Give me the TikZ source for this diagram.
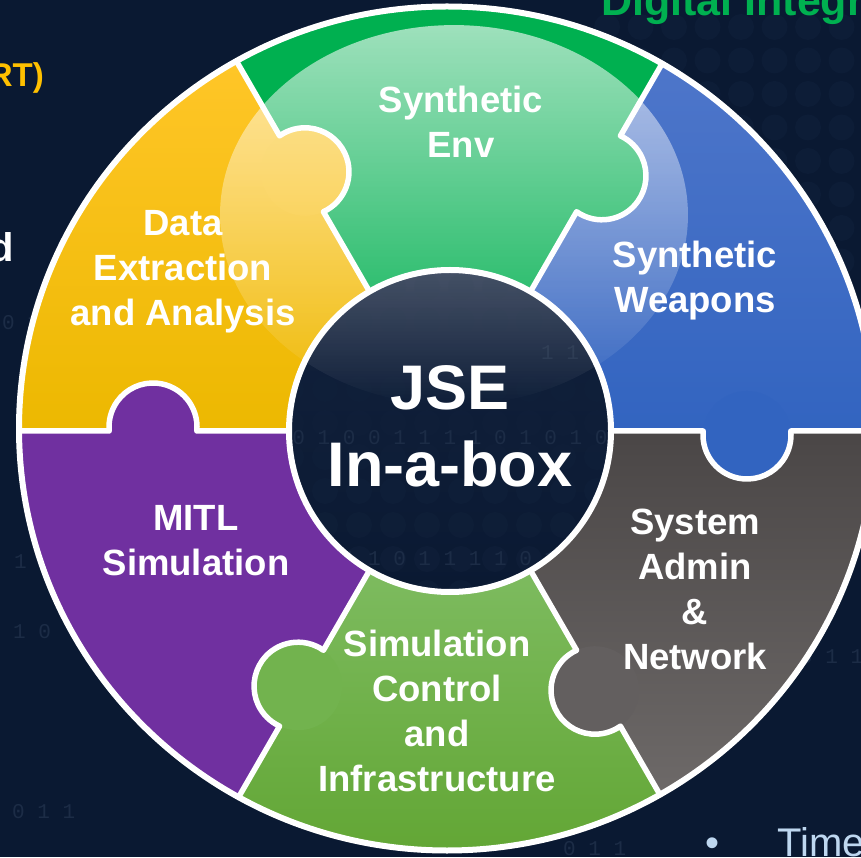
\documentclass[tikz,border=0pt]{standalone}
\usepackage{fontspec}
\setmainfont{Liberation Sans}
\newfontfamily\digitfont{Liberation Mono}
\usetikzlibrary{fadings}
\definecolor{bgnavy}{RGB}{10,25,50}
\definecolor{faint}{RGB}{28,44,70}
\definecolor{dotc}{RGB}{13,29,55}
\definecolor{hubdot}{RGB}{16,32,58}
\definecolor{yelTop}{RGB}{255,198,40}
\definecolor{yelBot}{RGB}{236,184,0}
\definecolor{yelKnob}{RGB}{249,194,28}
\definecolor{grnTop}{RGB}{0,176,80}
\definecolor{bluTop}{RGB}{78,118,202}
\definecolor{bluBot}{RGB}{50,100,192}
\definecolor{gryTop}{RGB}{74,70,70}
\definecolor{gryBot}{RGB}{110,106,105}
\definecolor{gryKnob}{RGB}{99,95,95}
\definecolor{gbTop}{RGB}{125,187,95}
\definecolor{gbBot}{RGB}{98,166,52}
\definecolor{gbKnob}{RGB}{114,179,78}
\definecolor{purp}{RGB}{112,48,160}
\definecolor{hubTop}{RGB}{18,33,60}
\definecolor{orng}{RGB}{255,192,0}
\definecolor{titlegreen}{RGB}{0,176,80}
\definecolor{lightblue}{RGB}{190,215,240}
\tikzset{
  seglabel/.style={text=white, align=center, inner sep=0pt, font=\bfseries\fontsize{36.5}{45}\selectfont},
  hubtext/.style={text=white, align=center, inner sep=0pt, font=\bfseries\fontsize{63}{77}\selectfont},
  piecebound/.style={draw=white, line width=5.5pt, line join=round},
  ringedge/.style={draw=white, line width=6pt},
  faintdigit/.style={text=faint, inner sep=0pt, font=\digitfont\fontsize{21}{21}\selectfont},
  bgdot/.style={fill=dotc},
  edgetext/.style={inner sep=0pt}
}
\begin{document}
\begin{tikzpicture}[x=1pt,y=1pt]
\useasboundingbox (0,0) rectangle (861,857);
\clip (0,0) rectangle (861,857);
\fill[bgnavy] (0,0) rectangle (861,857);

% background texture
\foreach \i in {0,...,8}
  \foreach \j in {0,...,12}
    \fill[bgdot] ({607+33.5*\i},{830-33.5*\j}) circle[radius=13];
\node[faintdigit, anchor=base west] (bgA) at (2,527) {0 1};
\node[faintdigit, anchor=base west] (bgB) at (14,289) {1};
\node[faintdigit, anchor=base west] (bgC) at (13,219) {1 0};
\node[faintdigit, anchor=base west] (bgD) at (12,39) {0 1 1};
\node[faintdigit, anchor=base west] (bgE) at (800,194) {0 1 1};
\node[faintdigit, anchor=base west] (bgF) at (563,2) {0 1 1};

% partial texts at the edges
\node[edgetext, anchor=base east, text=orng, font=\bfseries\fontsize{33}{33}\selectfont] (rt) at (44,770) {RT)};
\node[edgetext, anchor=base east, text=white, font=\bfseries\fontsize{40}{40}\selectfont] (dd) at (14,595) {d};
\node[edgetext, anchor=base west, text=titlegreen, font=\bfseries\fontsize{43}{43}\selectfont] (dig) at (601,841) {Digital Integr};
\node[edgetext, anchor=base, text=lightblue, font=\fontsize{40}{40}\selectfont] (bul) at (712,1) {•};
\node[edgetext, anchor=base west, text=lightblue, font=\fontsize{40}{40}\selectfont] (time) at (777,1) {Time};

\begin{scope}[shift={(450,426)}]
  % ---- piece fills ----
  \begin{scope}
    \clip (-3,2.5) ellipse [x radius=428, y radius=422];
    % yellow 120..180
    \begin{scope}
      \clip (0,0) -- (120:1000) -- (150:1000) -- (180:1000) -- cycle;
      \shade[top color=yelTop, bottom color=yelBot] (-450,-2) rectangle (2,372);
    \end{scope}
    % green top 60..120
    \fill[grnTop] (0,0) -- (60:1000) -- (90:1000) -- (120:1000) -- cycle;
    % blue 0..60
    \begin{scope}
      \clip (0,0) -- (0:1000) -- (30:1000) -- (60:1000) -- cycle;
      \shade[top color=bluTop, bottom color=bluBot] (-2,-2) rectangle (440,372);
    \end{scope}
    % gray -60..0
    \begin{scope}
      \clip (0,0) -- (-60:1000) -- (-30:1000) -- (0:1000) -- cycle;
      \shade[top color=gryTop, bottom color=gryBot] (-2,-372) rectangle (440,2);
    \end{scope}
    % green bottom -120..-60
    \begin{scope}
      \clip (0,0) -- (-120:1000) -- (-90:1000) -- (-60:1000) -- cycle;
      \shade[top color=gbTop, bottom color=gbBot] (-240,-425) rectangle (240,-140);
    \end{scope}
    % purple 180..240
    \fill[purp] (0,0) -- (180:1000) -- (210:1000) -- (240:1000) -- cycle;
    % knobs (each protrudes into the clockwise neighbour)
    \fill[yelKnob, rotate=120] (297,-4) circle[radius=44];
    \fill[grnTop, rotate=60] (297,-4) circle[radius=44];
    \fill[bluBot, rotate=0] (297,-4) circle[radius=44];
    \fill[gryKnob, rotate=-60] (297,-4) circle[radius=44];
    \fill[gbKnob, rotate=-120] (297,-4) circle[radius=44];
    \fill[purp, rotate=180] (297,-4) circle[radius=44];
  \end{scope}

  % ---- hub disk ----
  \shade[top color=hubTop, bottom color=bgnavy] (0,0) circle[radius=161];
  \begin{scope}
    \clip (0,0) circle[radius=158];
    \foreach \i in {0,...,9}
      \foreach \j in {0,...,9}
        \fill[hubdot, fill opacity=0.6] ({-159+34*\i},{144-34*\j}) circle[radius=13];
    \node[faintdigit, anchor=base] (hubrow1) at (0,-14) {0 1 0 0 1 1 1 1 0 1 0 1 0};
    \node[faintdigit, anchor=base] (hubrow2) at (0,-134) {1 1 0 1 1 1 1 0 1};
    \node[faintdigit, anchor=base] (hubrow3) at (110,71) {1 1};
  \end{scope}

  % ---- glossy highlight ----
  \begin{scope}
    \clip (-3,2.5) ellipse [x radius=428, y radius=422];
    \fill[white, fill opacity=0.62, path fading=south] (4,216) ellipse [x radius=234, y radius=190];
  \end{scope}

  % ---- white borders ----
  \begin{scope}
    \clip (-3,2.5) ellipse [x radius=428, y radius=422];
    \foreach \b in {0,60,120,180,240,300}
      \draw[piecebound, rotate=\b] (160,0) -- (253.18,0)
        arc[start angle=174.78, end angle=365.22, radius=44] -- (520,0);
  \end{scope}
  \draw[ringedge] (-3,2.5) ellipse [x radius=428, y radius=422];
  \draw[ringedge] (0,0) circle[radius=161];

  % ---- labels ----
  \node[seglabel] (env) at (11,309) {Synthetic\\Env};
  \node[seglabel] (weap) at (245,150) {Synthetic\\Weapons};
  \node[seglabel] (data) at (-267,159) {Data\\Extraction\\and Analysis};
  \node[seglabel] (mitl) at (-254,-109.5) {MITL\\Simulation};
  \node[seglabel] (simc) at (-13,-279.5) {Simulation\\Control\\and\\Infrastructure};
  \node[seglabel] (sysa) at (245,-158.5) {System\\Admin\\\&\\Network};
  \node[hubtext] (hub) at (0,5) {JSE\\In-a-box};
\end{scope}
\end{tikzpicture}
\end{document}
